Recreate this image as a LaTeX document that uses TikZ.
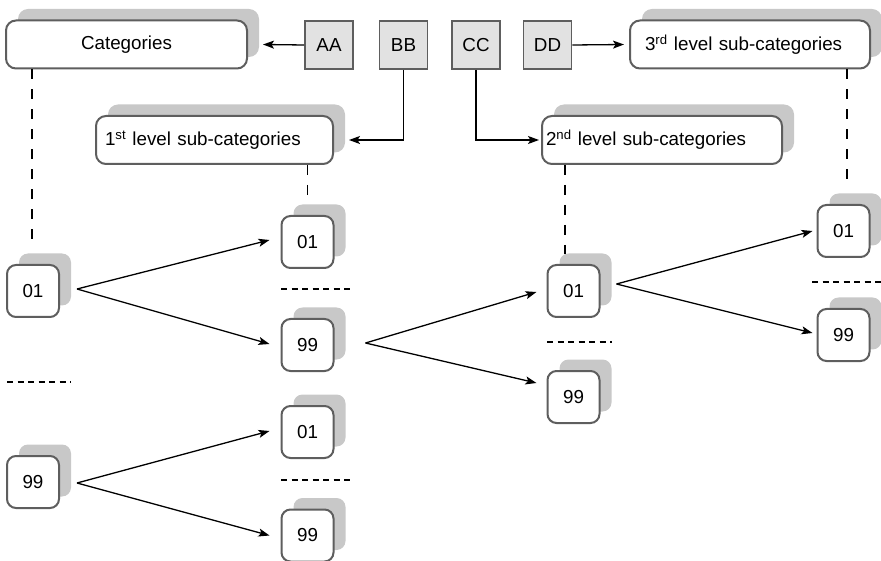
\documentclass[tikz,border=0pt]{standalone}
\usepackage{fontspec}
\setmainfont{Liberation Sans}
\usetikzlibrary{arrows.meta,shadows,calc}
\definecolor{bordergray}{HTML}{5E5E5E}
\definecolor{shadowgray}{HTML}{C8C8C8}
\definecolor{keygray}{HTML}{E2E2E2}
\begin{document}
\begin{tikzpicture}[x=1pt,y=-1pt,
  font=\fontsize{18.8}{22}\selectfont,
  shad/.style={drop shadow={shadow xshift=12pt, shadow yshift=11.5pt, fill=shadowgray, opacity=1, draw=none}},
  bigbox/.style={draw=bordergray, line width=2pt, fill=white, rounded corners=10pt, minimum height=48pt, inner ysep=0pt, shad},
  codebox/.style={draw=bordergray, line width=2pt, fill=white, rounded corners=9pt, minimum width=52pt, minimum height=52pt, inner sep=0pt, shad},
  keybox/.style={draw=bordergray, line width=1.6pt, fill=keygray, minimum size=48pt, inner sep=0pt},
  arr/.style={-{Stealth[length=11pt,width=8pt,inset=2.5pt]}, line width=1.3pt},
  vdash/.style={dash pattern=on 10pt off 10pt, line width=1.2pt},
  hdash/.style={dash pattern=on 6pt off 4.5pt, line width=1.2pt}]
\useasboundingbox (0,0) rectangle (881,561);

% level boxes
\node[bigbox, minimum width=241pt, inner xsep=0pt] (cat) at (126.5,44.5) {Categories};
\node[bigbox, text width=219pt, inner xsep=9pt, align=left] (l1) at (214.5,140) {1\textsuperscript{st} level sub-categories};
\node[bigbox, text width=232pt, inner xsep=4pt, align=left] (l2) at (662,140) {2\textsuperscript{nd} level sub-categories};
\node[bigbox, text width=210pt, inner xsep=15pt, align=left] (l3) at (750,44.5) {3\textsuperscript{rd} level sub-categories};

% key boxes
\node[keybox] (aa) at (329,45) {AA};
\node[keybox] (bb) at (403.5,45) {BB};
\node[keybox] (cc) at (476,45) {CC};
\node[keybox] (dd) at (547.5,45) {DD};

% code boxes
\node[codebox] (c1a) at (33,291) {01};
\node[codebox] (c1b) at (33,482) {99};
\node[codebox] (c2a) at (307.5,242) {01};
\node[codebox] (c2b) at (307.5,345) {99};
\node[codebox] (c2c) at (307.5,432) {01};
\node[codebox] (c2d) at (307.5,535.5) {99};
\node[codebox] (c3a) at (573.5,291) {01};
\node[codebox] (c3b) at (573.5,397) {99};
\node[codebox] (c4a) at (843.5,231) {01};
\node[codebox] (c4b) at (843.5,335) {99};

% key arrows
\draw[arr] (aa.west) -- ($(cat.east)+(15,0)$);
\draw[arr] (bb.south) |- ($(l1.east)+(15,0)$);
\draw[arr] (cc.south) |- ($(l2.west)+(-2,0)$);
\draw[arr] (dd.east) -- ($(l3.west)+(-5,0)$);

% vertical dashed links
\draw[vdash] (cat.south -| 32,0) -- ($(c1a.north)+(-1,-18)$);
\draw[vdash] (l1.south -| c2a.north) -- ($(c2a.north)+(0,-19)$);
\draw[vdash] (l2.south -| 565,0) -- ($(c3a.north)+(-8.5,-10)$);
\draw[vdash] (l3.south -| 847,0) -- ($(c4a.north)+(3.5,-21)$);

% horizontal dashed separators
\draw[hdash] (7,382) -- (71,382);
\draw[hdash] (281,289) -- (350,289);
\draw[hdash] (281,480) -- (350,480);
\draw[hdash] (547,342) -- (612,342);
\draw[hdash] (812,282) -- (881,282);

% branching arrows
\coordinate (o1) at ($(c1a.east)+(17,-2)$);
\draw[arr] (o1) -- ($(c2a.west)+(-11,-2)$);
\draw[arr] (o1) -- ($(c2b.west)+(-11,-1)$);
\coordinate (o2) at ($(c1b.east)+(17,1)$);
\draw[arr] (o2) -- ($(c2c.west)+(-11,-1)$);
\draw[arr] (o2) -- ($(c2d.west)+(-11,0)$);
\coordinate (o3) at ($(c2b.east)+(31,-2)$);
\draw[arr] (o3) -- ($(c3a.west)+(-10,1)$);
\draw[arr] (o3) -- ($(c3b.west)+(-10,-14)$);
\coordinate (o4) at ($(c3a.east)+(16,-7)$);
\draw[arr] (o4) -- ($(c4a.west)+(-4,0)$);
\draw[arr] (o4) -- ($(c4b.west)+(-4,-2)$);
\end{tikzpicture}
\end{document}
